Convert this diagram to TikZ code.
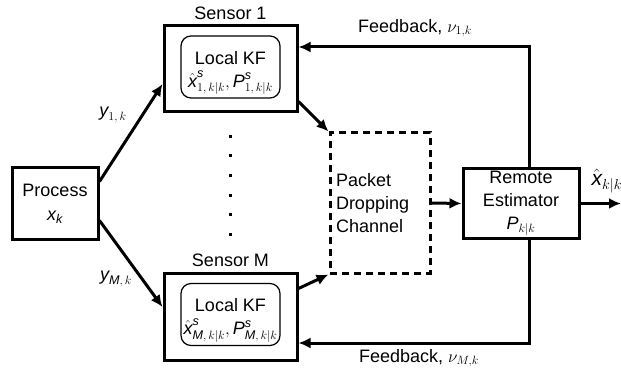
\documentclass[tikz,border=0pt]{standalone}
\usepackage{amsmath}
\usepackage{fontspec}
\setmainfont{Liberation Sans}
\usetikzlibrary{arrows.meta,calc,positioning}
\newcommand{\sv}[1]{\textit{#1}}

\begin{document}
\begin{tikzpicture}[x=1pt,y=-1pt,font=\fontsize{18}{23}\selectfont,
  blk/.style={draw,line width=3pt,inner sep=0pt,align=center},
  kf/.style={draw,line width=1.2pt,rounded corners=10pt,inner sep=0pt,
    minimum width=99pt,minimum height=62pt},
  kftext/.style={inner sep=0pt,align=center},
  chan/.style={draw,line width=3pt,dash pattern=on 7pt off 5pt,inner sep=0pt,
    minimum width=100pt,minimum height=140pt,text width=88pt,align=left},
  arr/.style={line width=3pt,-{Latex[length=12pt,width=11pt]}}]
			\useasboundingbox (0,0) rectangle (621,374);
			% process and sensors
			\node[blk,minimum width=86pt,minimum height=71pt] (proc) at (55,203.5) {Process\\[1pt] $\sv{x}_{\sv{k}}$};
			\node[blk,minimum width=133pt,minimum height=86pt] (s1) at (230.5,69) {};
			\node[kf] (kf1) at (230.5,67) {};
			\node[kftext] (kf1txt) at (230.5,73) {Local KF\\ {\fontsize{18}{20}\selectfont$\hat{\sv{x}}^{\sv{s}}_{1,\,k|k},\sv{P}^{\sv{s}}_{1,\,k|k}$}};
			\node[blk,minimum width=133pt,minimum height=87pt] (sM) at (230.5,316.5) {};
			\node[kf] (kfM) at (230.5,314.5) {};
			\node[kftext] (kfMtxt) at (230.5,320.5) {Local KF\\ {\fontsize{18}{20}\selectfont$\hat{\sv{x}}^{\sv{s}}_{\sv{M},\,k|k},\sv{P}^{\sv{s}}_{\sv{M},\,k|k}$}};
			\node[above=1pt of s1] (s1lbl) {Sensor 1};
			\node[above=1pt of sM] (sMlbl) {Sensor M};
			\foreach \yy in {135,154.5,174,194,213.5,233} {
				\fill (228.5,\yy) rectangle +(3,3);
			}
			% channel and estimator
			\node[chan] (ch) at (380,203) {Packet\\Dropping\\Channel};
			\node[blk,minimum width=116pt,minimum height=69pt] (rem) at (521,203.5) {Remote\\Estimator\\$\sv{P}_{k|k}$};
			\coordinate (out) at (621,203.5);
			\coordinate (fb1) at (529,47);
			\coordinate (fbM) at (529,343);
			% measurements
			\draw[arr] ($(proc.north east)+(0,15)$) -- ($(s1.west)+(0,15)$);
			\draw[arr] ($(proc.south east)+(0,-20)$) -- ($(sM.west)+(0,-9.5)$);
			\node (y1) at (113,115) {$\sv{y}_{1,\,k}$};
			\node (yM) at (116,279) {$\sv{y}_{\sv{M},\,k}$};
			% packets to estimator
			\draw[arr] ($(s1.south east)+(0,-12)$) -- (ch.north west);
			\draw[arr] ($(sM.north east)+(0,17)$) -- (ch.south west);
			\draw[arr] (ch.east) -- (rem.west);
			\draw[arr] (rem.east) -- (out);
			\node[anchor=west,font=\fontsize{21}{23}\selectfont] (xhat) at (588,181) {$\hat{\sv{x}}_{k|k}$};
			% feedback
			\draw[arr] (fb1 |- rem.north) -- (fb1) -- (s1.east |- fb1);
			\draw[arr] (fbM |- rem.south) -- (fbM) -- (sM.east |- fbM);
			\node (fb1lbl) at (415,28) {Feedback, $\nu_{1,k}$};
			\node (fbMlbl) at (419,358) {Feedback, $\nu_{M,k}$};
		\end{tikzpicture}
\end{document}
